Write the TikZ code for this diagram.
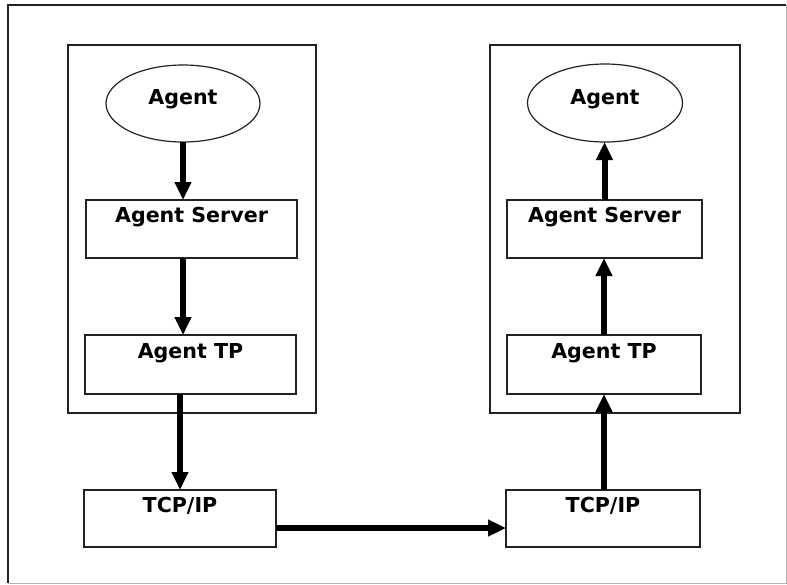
\documentclass[tikz,border=0pt]{standalone}
\usepackage{fontspec}
\setmainfont{DejaVu Sans}
\usetikzlibrary{arrows.meta,shapes.geometric,calc}
\definecolor{ink}{HTML}{222222}
\tikzset{
  frameline/.style={draw=ink, line width=1.4pt},
  layerbox/.style={draw=ink, line width=1.4pt, rectangle, inner sep=0pt, outer sep=0pt},
  agentell/.style={draw=ink, line width=1.2pt, ellipse, inner sep=0pt, outer sep=0pt},
  lbl/.style={font=\fontsize{20.6}{24}\selectfont\bfseries, text=black, anchor=base, inner sep=0pt},
  flow/.style={draw=black, line width=6pt, -{Triangle[length=18pt,width=16pt]}},
}
\begin{document}
\begin{tikzpicture}[x=1pt,y=-1pt]
\useasboundingbox (0,0) rectangle (787,584);

% outer frame
\draw[frameline] (786,5) -- (8,5) -- (8,583);
\draw[draw=ink!35, line width=1pt] (786,5) -- (786,583) -- (8,583);

% sending host
\node[layerbox, minimum width=248pt, minimum height=368pt] (boxL) at (192,229) {};
\node[agentell, minimum width=154pt, minimum height=77pt,
      label={[lbl, yshift=4pt]center:Agent}] (ellL) at (183,103.5) {};
\node[layerbox, minimum width=211pt, minimum height=58pt,
      label={[lbl, yshift=-22pt]north:Agent Server}] (srvL) at (191.5,229) {};
\node[layerbox, minimum width=211pt, minimum height=59pt,
      label={[lbl, yshift=-23pt]north:Agent TP}] (tpL) at (190.5,364.5) {};
\node[layerbox, minimum width=192pt, minimum height=57pt,
      label={[lbl, yshift=-22pt]north:TCP/IP}] (tcpL) at (180,518.5) {};

% receiving host
\node[layerbox, minimum width=250pt, minimum height=368pt] (boxR) at (615,229) {};
\node[agentell, minimum width=155pt, minimum height=78pt,
      label={[lbl, yshift=4pt]center:Agent}] (ellR) at (605,103) {};
\node[layerbox, minimum width=195pt, minimum height=58pt,
      label={[lbl, yshift=-22pt]north:Agent Server}] (srvR) at (604.5,229) {};
\node[layerbox, minimum width=194pt, minimum height=59pt,
      label={[lbl, yshift=-23pt]north:Agent TP}] (tpR) at (604,364.5) {};
\node[layerbox, minimum width=194pt, minimum height=57pt,
      label={[lbl, yshift=-22pt]north:TCP/IP}] (tcpR) at (603,518.5) {};

% down the sending stack
\draw[flow] (ellL.south) -- (ellL.south |- srvL.north);
\draw[flow] (ellL.south |- srvL.south) -- (ellL.south |- tpL.north);
\draw[flow] (tcpL.north |- tpL.south) -- (tcpL.north);

% across the network
\draw[flow] ([yshift=-9.5pt]tcpL.east) -- ([yshift=-9.5pt]tcpR.west);

% up the receiving stack
\draw[flow] (tcpR.north -| tpR.south) -- (tpR.south);
\draw[flow] (tpR.north) -- (tpR.north |- srvR.south);
\draw[flow] (srvR.north) -- (srvR.north |- ellR.south);
\end{tikzpicture}
\end{document}
